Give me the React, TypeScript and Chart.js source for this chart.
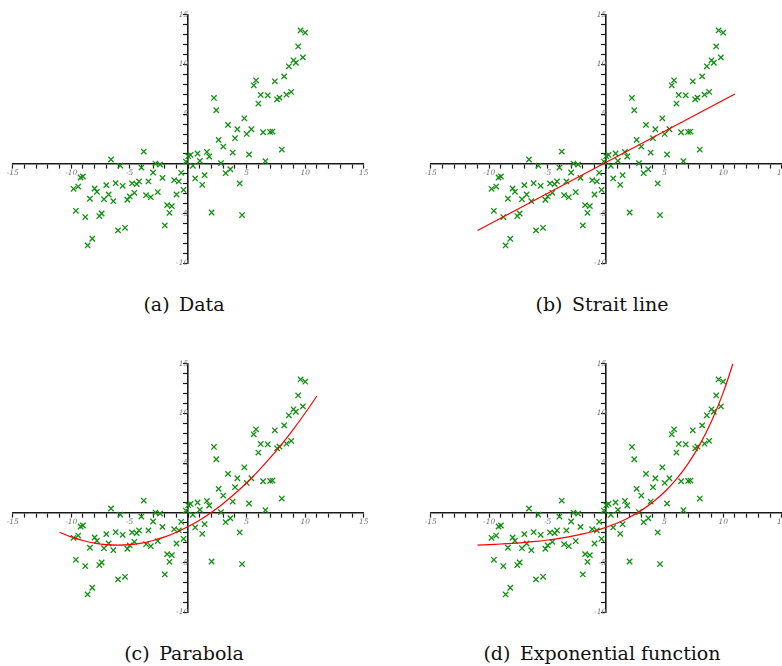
import React, { useEffect, useRef } from 'react';
import { Chart, registerables } from 'chart.js';

Chart.register(...registerables);

// ---- data ----
const dataX = [
  -9.8, -9.6, -9.4, -9.2, -9.0, -8.8, -8.6, -8.4, -8.2, -8.0,
  -7.8, -7.6, -7.4, -7.2, -7.0, -6.8, -6.6, -6.4, -6.2, -6.0,
  -5.8, -5.6, -5.4, -5.2, -5.0, -4.8, -4.6, -4.4, -4.2, -4.0,
  -3.8, -3.6, -3.4, -3.2, -3.0, -2.8, -2.6, -2.4, -2.2, -2.0,
  -1.8, -1.6, -1.4, -1.2, -1.0, -0.8, -0.6, -0.4, -0.2, 0.0,
  0.2, 0.4, 0.6, 0.8, 1.0, 1.2, 1.4, 1.6, 1.8, 2.0,
  2.2, 2.4, 2.6, 2.8, 3.0, 3.2, 3.4, 3.6, 3.8, 4.0,
  4.2, 4.4, 4.6, 4.8, 5.0, 5.2, 5.4, 5.6, 5.8, 6.0,
  6.2, 6.4, 6.6, 6.8, 7.0, 7.2, 7.4, 7.6, 7.8, 8.0,
  8.2, 8.4, 8.6, 8.8, 9.0, 9.2, 9.4, 9.6, 9.8, 10.0,
];
const dataY = [
  -2.51, -4.72, -2.28, -1.37, -1.27, -5.35, -8.2, -3.51, -7.53, -2.48,
  -2.81, -5.25, -4.99, -3.55, -2.14, -3.08, 0.44, -3.75, -1.94, -6.69,
  -0.17, -2.21, -6.43, -3.61, -3.28, -1.97, -2.91, -2.04, -1.77, -0.37,
  1.24, -3.15, -1.77, -3.35, -0.87, 0.03, -2.84, -0.07, -1.41, -6.19,
  -4.15, -4.92, -4.25, -1.64, -3.08, -1.77, -0.9, -2.61, 0.23, 0.77,
  0.9, -0.2, -1.47, 1.04, 0.3, -2.11, -1.14, 1.2, 0.74, -4.89,
  6.63, 5.39, 2.41, 0.07, 1.74, -0.94, 3.92, -0.54, 1.14, 2.58,
  3.48, -1.97, -5.15, 4.58, 3.01, 0.94, 3.48, 7.9, 8.4, 6.06,
  6.93, 3.18, 0.27, 6.89, 3.21, 3.25, 8.3, 6.49, 6.66, 1.44,
  8.8, 6.96, 9.81, 7.23, 10.41, 10.17, 11.81, 13.42, 10.71, 13.19,
];

// fitted curves
const lineX = [-11, 11];
const lineY = [-6.7, 7.03];
const curveX = [-11, -10, -9, -8, -7, -6, -5, -4, -3, -2, -1, 0, 1, 2, 3, 4, 5, 6, 7, 8, 9, 10, 11];
const parabolaY = [
  -1.95, -2.42, -2.78, -3.04, -3.2, -3.25, -3.2, -3.04, -2.78, -2.42, -1.95, -1.38,
  -0.71, 0.07, 0.95, 1.94, 3.03, 4.22, 5.52, 6.92, 8.43, 10.04, 11.75,
];
const expY = [
  -3.24, -3.19, -3.13, -3.06, -2.97, -2.87, -2.73, -2.57, -2.37, -2.12, -1.82, -1.45,
  -1.0, -0.44, 0.25, 1.09, 2.12, 3.39, 4.95, 6.86, 9.21, 12.09, 15.62,
];

const xTickLabels = [-15, -10, -5, 5, 10, 15];
const yTickLabels = [-10, -5, 5, 10, 15];
const captions = ['(a)\u2002Data', '(b)\u2002Strait line', '(c)\u2002Parabola', '(d)\u2002Exponential function'];

const GREEN = 'rgb(16,145,16)';
const RED = 'rgb(255,0,0)';

type Fit = { xs: number[]; ys: number[]; tension: number } | null;

function tickCb(labels: number[]) {
  return (v: any) => {
    const n = Number(v);
    const r = Math.round(n);
    return Math.abs(n - r) < 1e-6 && labels.includes(r) ? String(r) : '';
  };
}

function Panel({ left, top, fit }: { left: number; top: number; fit: Fit }) {
  const ref = useRef<HTMLCanvasElement>(null);
  useEffect(() => {
    if (!ref.current) return;
    const datasets: any[] = [];
    if (fit) {
      datasets.push({
        type: 'line',
        data: fit.xs.map((x, i) => ({ x, y: fit.ys[i] })),
        borderColor: RED,
        borderWidth: 1.2,
        pointRadius: 0,
        tension: fit.tension,
        fill: false,
        showLine: true,
      });
    }
    datasets.push({
      type: 'scatter',
      data: dataX.map((x, i) => ({ x, y: dataY[i] })),
      pointStyle: 'crossRot',
      pointRadius: 3.8,
      borderColor: GREEN,
      backgroundColor: GREEN,
      borderWidth: 1.3,
      showLine: false,
    });
    const tickFont = { family: 'DejaVu Serif', size: 7.5, style: 'italic' as const };
    const chart = new Chart(ref.current, {
      type: 'scatter',
      data: { datasets },
      options: {
        responsive: false,
        animation: false,
        events: [],
        layout: { padding: { left: 12.7, right: 16.3, top: 14.7, bottom: 16.7 } },
        plugins: { legend: { display: false }, tooltip: { enabled: false } },
        scales: {
          x: {
            type: 'linear',
            min: -15,
            max: 15,
            position: { y: 0 } as any,
            border: { display: true, color: '#1a1a1a', width: 1.6 },
            grid: { drawOnChartArea: false, drawTicks: true, tickLength: 4, color: '#1a1a1a', tickWidth: 1.2 },
            ticks: {
              stepSize: 1,
              autoSkip: false,
              maxRotation: 0,
              padding: 1,
              color: '#707070',
              font: tickFont,
              callback: tickCb(xTickLabels),
            },
          },
          y: {
            type: 'linear',
            min: -10,
            max: 15,
            position: { x: 0 } as any,
            border: { display: true, color: '#1a1a1a', width: 1.6 },
            grid: { drawOnChartArea: false, drawTicks: true, tickLength: 4, color: '#1a1a1a', tickWidth: 1.2 },
            ticks: {
              stepSize: 1,
              autoSkip: false,
              padding: 2,
              color: '#707070',
              font: tickFont,
              callback: tickCb(yTickLabels),
            },
          },
        },
      },
    });
    return () => chart.destroy();
  }, [fit]);
  return (
    <canvas
      ref={ref}
      width={380}
      height={280}
      style={{ position: 'absolute', left, top, width: 380, height: 280 }}
    />
  );
}

const fits: Fit[] = [
  null,
  { xs: lineX, ys: lineY, tension: 0 },
  { xs: curveX, ys: parabolaY, tension: 0.4 },
  { xs: curveX, ys: expY, tension: 0.4 },
];

export default function App() {
  const offsetsX = [0, 418, 0, 418];
  const offsetsY = [0, 0, 349, 349];
  return (
    <div
      style={{
        position: 'absolute',
        left: 0,
        top: 0,
        width: 782,
        height: 666,
        overflow: 'hidden',
        background: '#fff',
      }}
    >
      {fits.map((f, i) => (
        <Panel key={i} left={offsetsX[i]} top={offsetsY[i]} fit={f} />
      ))}
      {captions.map((c, i) => (
        <div
          key={'c' + i}
          style={{
            position: 'absolute',
            left: offsetsX[i] + 184 - 150,
            top: offsetsY[i] + 292,
            width: 300,
            textAlign: 'center',
            fontFamily: '"DejaVu Serif", serif',
            fontSize: 19,
            lineHeight: '24px',
            color: '#111',
            whiteSpace: 'pre',
          }}
        >
          {c}
        </div>
      ))}
    </div>
  );
}
